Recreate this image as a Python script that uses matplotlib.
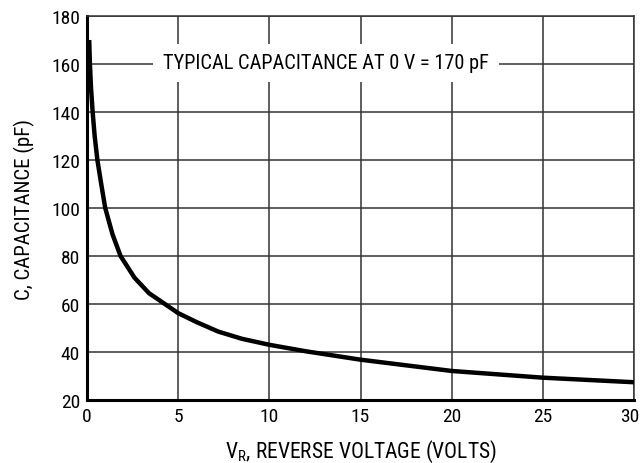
import matplotlib
matplotlib.use("Agg")
import matplotlib.pyplot as plt
import matplotlib.transforms as mtransforms

# values
reverse_voltage = [0.12, 0.16, 0.22, 0.31, 0.42, 0.57, 0.78, 1.0, 1.4, 1.84,
                   2.6, 3.4, 4.27, 5.0, 6.0, 7.2, 8.5, 10, 12, 15, 20, 25, 30]
capacitance = [170, 160, 150, 140, 130, 120, 110, 100, 89, 80,
               71, 64.5, 60, 56.2, 52.5, 48.5, 45.5, 43, 40.3, 36.8, 32.1, 29.3, 27.4]

x_ticks = [0, 5, 10, 15, 20, 25, 30]
y_ticks = [20, 40, 60, 80, 100, 120, 140, 160, 180]
note = "TYPICAL CAPACITANCE AT 0 V = 170 pF"

plt.rcParams['font.family'] = ['Roboto Condensed', 'DejaVu Sans']
plt.rcParams['mathtext.fontset'] = 'custom'
plt.rcParams['mathtext.rm'] = 'Roboto Condensed'

fig = plt.figure(figsize=(6.42, 4.64), dpi=100)
ax = fig.add_axes([87 / 642, 1 - 401 / 464, 547 / 642, 384 / 464])

ax.set_xlim(0, 30)
ax.set_ylim(20, 180)
ax.set_xticks(x_ticks)
ax.set_yticks(y_ticks)
ax.grid(True, color='#333333', linewidth=1.1, zorder=1)
ax.tick_params(length=0, labelsize=14, pad=5)

# nudge the last x label so it stays inside the figure
shift = mtransforms.ScaledTranslation(-4 / 100, 0, fig.dpi_scale_trans)
last = ax.get_xticklabels()[-1]
last.set_transform(last.get_transform() + shift)

for side in ['top', 'right']:
    ax.spines[side].set_linewidth(1.1)
    ax.spines[side].set_color('#333333')
for side in ['left', 'bottom']:
    ax.spines[side].set_linewidth(2.2)
    ax.spines[side].set_color('black')

ax.plot(reverse_voltage, capacitance, color='black', linewidth=3.2,
        solid_capstyle='butt', zorder=3)

ax.text(13.1, 160.5, note, ha='center', va='center', fontsize=14.7, zorder=2,
        bbox=dict(facecolor='white', edgecolor='none', pad=7))

ax.set_xlabel(r"V$_\mathregular{R}$, REVERSE VOLTAGE (VOLTS)", fontsize=15.5, labelpad=9)
ax.set_ylabel("C, CAPACITANCE (pF)", fontsize=15, labelpad=12)

fig.savefig("out.png", dpi=100)
